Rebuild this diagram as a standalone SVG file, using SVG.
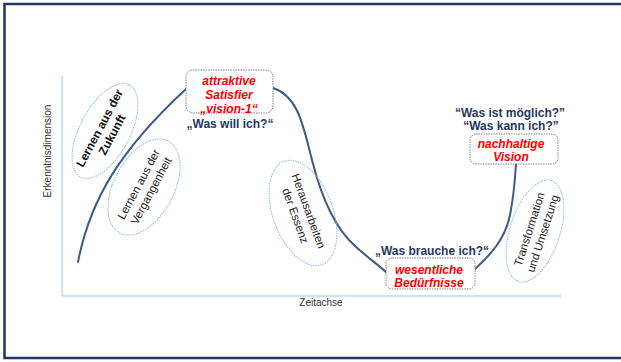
<svg xmlns="http://www.w3.org/2000/svg" width="621" height="362" viewBox="0 0 621 362">
<style>
.frame{fill:#fff;stroke:#1F3864;stroke-width:2.5}
.axis{stroke:#BDD7EE;stroke-width:1.5;fill:none}
.curve{stroke:#3C5A8A;stroke-width:2;fill:none;stroke-linecap:round}
.ell{fill:none;stroke:#8DB9DC;stroke-width:1;stroke-dasharray:1.5 1}
.box{fill:#fff;stroke:#808080;stroke-width:1;stroke-dasharray:1.5 1}
.lbl{font-family:"Liberation Sans",Arial,sans-serif;font-size:10px;fill:#333;text-anchor:middle}
.q{font-family:"Liberation Sans",Arial,sans-serif;font-size:12px;font-weight:bold;fill:#1F3864;text-anchor:middle}
.red{font-family:"Liberation Sans",Arial,sans-serif;font-size:12px;font-weight:bold;font-style:italic;fill:#FF0000;text-anchor:middle}
.et{font-family:"Liberation Sans",Arial,sans-serif;font-size:11.5px;fill:#222;text-anchor:middle}
.etb{font-family:"Liberation Sans",Arial,sans-serif;font-size:12px;font-weight:bold;fill:#111;text-anchor:middle}
</style>
<rect class="frame" x="4.5" y="4" width="640" height="354"/>
<g id="axes">
<line class="axis" x1="62" y1="76" x2="62" y2="296"/>
<line class="axis" x1="62" y1="296" x2="561" y2="296"/>
<text class="lbl" transform="translate(51,151) rotate(-90)">Erkenntnisdimension</text>
<text class="lbl" x="321" y="306">Zeitachse</text>
</g>
<g id="connectors">
<path class="curve" d="M78,262 C90,200 120,150 186,89"/>
<path class="curve" d="M273,88 C298,96 303,125 312,160 C322,200 335,228 355,246 C368,258 380,266 387,273"/>
<path class="curve" d="M474,270 C490,255 505,240 510,215 C514,195 515,180 516,164"/>
</g>
<g id="zukunft">
<ellipse class="ell" cx="105" cy="131" rx="52" ry="25" transform="rotate(-62 105 131)"/>
<g transform="translate(105,131) rotate(-62)">
<text class="etb" x="0" y="-2">Lernen aus der</text>
<text class="etb" x="0" y="12">Zukunft</text>
</g>
</g>
<g id="vergangenheit">
<ellipse class="ell" cx="144" cy="187" rx="52" ry="30" transform="rotate(-62 144 187)"/>
<g transform="translate(144,187) rotate(-62)">
<text class="et" x="0" y="-2">Lernen aus der</text>
<text class="et" x="0" y="12">Vergangenheit</text>
</g>
</g>
<g id="essenz">
<ellipse class="ell" cx="303" cy="213" rx="55" ry="30" transform="rotate(70 303 213)"/>
<g transform="translate(303,213) rotate(70)">
<text class="et" x="0" y="-2">Herausarbeiten</text>
<text class="et" x="0" y="12">der Essenz</text>
</g>
</g>
<g id="transformation">
<ellipse class="ell" cx="535" cy="231" rx="53" ry="25" transform="rotate(-72 535 231)"/>
<g transform="translate(535,231) rotate(-72)">
<text class="et" x="0" y="-2">Transformation</text>
<text class="et" x="0" y="12">und Umsetzung</text>
</g>
</g>
<g id="satisfier">
<rect class="box" x="186" y="70" width="87" height="43" rx="7"/>
<text class="red" x="229" y="85">attraktive</text>
<text class="red" x="229" y="99">Satisfier</text>
<text class="red" x="229" y="113">„vision-1“</text>
<text class="q" x="230" y="128">„Was will ich?“</text>
</g>
<g id="beduerfnisse">
<rect class="box" x="386" y="258" width="89" height="31" rx="6"/>
<text class="red" x="429" y="274">wesentliche</text>
<text class="red" x="429" y="287">Bedürfnisse</text>
<text class="q" x="432" y="255">„Was brauche ich?“</text>
</g>
<g id="vision">
<text class="q" x="510" y="117">“Was ist möglich?”</text>
<text class="q" x="511" y="130">“Was kann ich?”</text>
<rect class="box" x="470" y="134" width="88" height="30" rx="6"/>
<text class="red" x="511" y="148">nachhaltige</text>
<text class="red" x="511" y="161">Vision</text>
</g>
</svg>
